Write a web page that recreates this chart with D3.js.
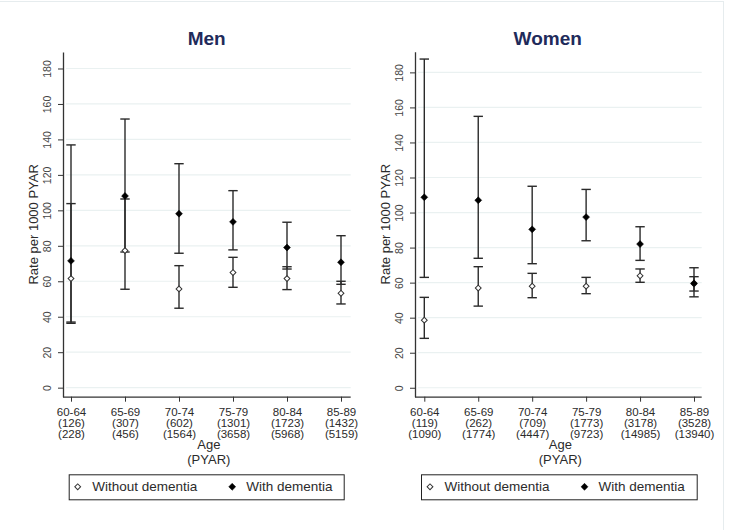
<!DOCTYPE html>
<html>
<head>
<meta charset="utf-8">
<script src="https://cdn.jsdelivr.net/npm/d3@7/dist/d3.min.js"></script>
<style>
  html, body { margin: 0; padding: 0; background: #ffffff; }
  svg { display: block; font-family: "Liberation Sans", Arial, sans-serif; }
</style>
</head>
<body>
<svg id="chart" width="729" height="530"></svg>
<script>
// ---------- data ----------
const ageGroups = ["60-64", "65-69", "70-74", "75-79", "80-84", "85-89"];
const yTicks = [0, 20, 40, 60, 80, 100, 120, 140, 160, 180];

const menPyarWith    = ["(126)", "(307)", "(602)", "(1301)", "(1723)", "(1432)"];
const menPyarWithout = ["(228)", "(456)", "(1564)", "(3658)", "(5968)", "(5159)"];
const menWithRate     = [71.5, 108.1, 98.1, 93.5, 79.0, 70.7];
const menWithLower    = [37.0, 76.5, 75.8, 77.7, 66.9, 58.3];
const menWithUpper    = [136.9, 151.5, 126.3, 111.1, 93.3, 85.7];
const menWithoutRate  = [61.5, 77.3, 55.7, 64.9, 61.5, 53.2];
const menWithoutLower = [36.3, 55.5, 44.8, 56.6, 55.3, 47.2];
const menWithoutUpper = [103.8, 106.4, 68.8, 73.5, 68.2, 60.0];

const womenPyarWith    = ["(119)", "(262)", "(709)", "(1773)", "(3178)", "(3528)"];
const womenPyarWithout = ["(1090)", "(1774)", "(4447)", "(9723)", "(14985)", "(13940)"];
const womenWithRate     = [108.7, 107.0, 90.4, 97.4, 82.0, 59.6];
const womenWithLower    = [63.0, 73.9, 70.8, 83.9, 72.7, 51.9];
const womenWithUpper    = [187.6, 154.9, 115.0, 113.2, 91.9, 68.5];
const womenWithoutRate  = [38.6, 56.9, 58.0, 58.0, 63.9, 59.3];
const womenWithoutLower = [28.2, 46.6, 51.4, 53.7, 60.2, 55.2];
const womenWithoutUpper = [51.6, 69.1, 65.3, 63.0, 67.8, 63.4];

const panelTitles = ["Men", "Women"];
const legendLabels = ["Without dementia", "With dementia"];
const yTitle = "Rate per 1000 PYAR";
const xTitle = ["Age", "(PYAR)"];

// ---------- layout ----------
const svg = d3.select("#chart");
const textColor = "#2b2b2b";
const barColor = "#2a2a2a";

// faint outer frame
svg.append("line").attr("x1", 0).attr("x2", 723).attr("y1", 1.5).attr("y2", 1.5)
  .attr("stroke", "#e6ecee").attr("stroke-width", 1);
svg.append("line").attr("x1", 723.5).attr("x2", 723.5).attr("y1", 1).attr("y2", 530)
  .attr("stroke", "#e6ecee").attr("stroke-width", 1);

const panels = [
  {
    title: panelTitles[0], axisX: 63, right: 350.7, top: 52, bottom: 396.7,
    domainMin: -5.1, domainMax: 189.3, xFirst: 71, xLast: 341,
    pyarWith: menPyarWith, pyarWithout: menPyarWithout,
    withRate: menWithRate, withLower: menWithLower, withUpper: menWithUpper,
    withoutRate: menWithoutRate, withoutLower: menWithoutLower, withoutUpper: menWithoutUpper,
    legendX: 68.7, legendW: 275, titleX: 206.7
  },
  {
    title: panelTitles[1], axisX: 415, right: 701.7, top: 51.7, bottom: 396.7,
    domainMin: -5.1, domainMax: 191.8, xFirst: 424.3, xLast: 694,
    pyarWith: womenPyarWith, pyarWithout: womenPyarWithout,
    withRate: womenWithRate, withLower: womenWithLower, withUpper: womenWithUpper,
    withoutRate: womenWithoutRate, withoutLower: womenWithoutLower, withoutUpper: womenWithoutUpper,
    legendX: 421, legendW: 275.7, titleX: 547.7
  }
];

const diamondFilled = d3.symbol().type(d3.symbolSquare).size(24);
const diamondHollow = d3.symbol().type(d3.symbolSquare).size(17);

panels.forEach(p => {
  const g = svg.append("g");
  const y = d3.scaleLinear().domain([p.domainMin, p.domainMax]).range([p.bottom, p.top]);
  const x = d3.scalePoint().domain(ageGroups).range([p.xFirst, p.xLast]);

  // title
  g.append("text").attr("x", p.titleX).attr("y", 44.5)
    .attr("text-anchor", "middle").attr("font-size", 19).attr("font-weight", "bold")
    .attr("fill", "#1f2b5b").text(p.title);

  // gridlines
  g.append("g").selectAll("line").data(yTicks).join("line")
    .attr("x1", p.axisX + 3).attr("x2", p.right)
    .attr("y1", d => y(d)).attr("y2", d => y(d))
    .attr("stroke", "#eaf1f1").attr("stroke-width", 1.2);

  // y axis
  const yAxis = g.append("g").attr("transform", `translate(${p.axisX},0)`)
    .call(d3.axisLeft(y).tickValues(yTicks).tickSize(5).tickSizeOuter(0));
  yAxis.select(".domain").attr("stroke", "#333").attr("stroke-width", 1.3);
  yAxis.selectAll(".tick line").attr("stroke", "#333");
  yAxis.selectAll(".tick text")
    .attr("transform", "rotate(-90)")
    .attr("x", 0).attr("y", -15.5).attr("dy", "0.35em")
    .attr("text-anchor", "middle").attr("font-size", 10.5).attr("fill", "#444");

  // x axis
  const xAxis = g.append("g").attr("transform", `translate(0,${p.bottom})`)
    .call(d3.axisBottom(x).tickSize(5).tickSizeOuter(0));
  xAxis.select(".domain").attr("d", `M${p.axisX},0.5H${p.right}`)
    .attr("stroke", "#333").attr("stroke-width", 1.3);
  xAxis.selectAll(".tick line").attr("stroke", "#333");
  xAxis.selectAll(".tick text").each(function(d, i) {
    const t = d3.select(this);
    t.text(null).attr("y", 0).attr("dy", null).attr("font-size", 11.5).attr("fill", textColor);
    [d, p.pyarWith[i], p.pyarWithout[i]].forEach((s, k) => {
      t.append("tspan").attr("x", 0).attr("y", 19.5 + k * 11).text(s);
    });
  });

  // x axis title
  const cx = (p.axisX + p.right) / 2;
  xTitle.forEach((s, k) => {
    g.append("text").attr("x", cx + 2).attr("y", 448.5 + k * 15)
      .attr("text-anchor", "middle").attr("font-size", 13).attr("fill", textColor).text(s);
  });

  // y axis title
  const cy = (p.top + p.bottom) / 2;
  g.append("text")
    .attr("transform", `translate(${p.axisX - 25},${cy}) rotate(-90)`)
    .attr("text-anchor", "middle").attr("font-size", 13).attr("fill", textColor)
    .text(yTitle);

  // error bars
  const series = [
    { rate: p.withoutRate, lo: p.withoutLower, hi: p.withoutUpper, filled: false },
    { rate: p.withRate, lo: p.withLower, hi: p.withUpper, filled: true }
  ];
  const capHalf = 4.7;
  series.forEach(s => {
    const eg = g.append("g").attr("stroke", barColor).attr("stroke-width", 1.4);
    eg.selectAll("line.v").data(ageGroups).join("line").attr("class", "v")
      .attr("x1", d => x(d)).attr("x2", d => x(d))
      .attr("y1", (d, i) => y(s.lo[i])).attr("y2", (d, i) => y(s.hi[i]));
    eg.selectAll("line.lo").data(ageGroups).join("line").attr("class", "lo")
      .attr("x1", d => x(d) - capHalf).attr("x2", d => x(d) + capHalf)
      .attr("y1", (d, i) => y(s.lo[i])).attr("y2", (d, i) => y(s.lo[i]));
    eg.selectAll("line.hi").data(ageGroups).join("line").attr("class", "hi")
      .attr("x1", d => x(d) - capHalf).attr("x2", d => x(d) + capHalf)
      .attr("y1", (d, i) => y(s.hi[i])).attr("y2", (d, i) => y(s.hi[i]));
  });
  // markers
  series.forEach(s => {
    g.append("g").selectAll("path").data(ageGroups).join("path")
      .attr("d", s.filled ? diamondFilled : diamondHollow)
      .attr("transform", (d, i) => `translate(${x(d)},${y(s.rate[i])}) rotate(45)`)
      .attr("fill", s.filled ? "#000" : "#fff")
      .attr("stroke", s.filled ? "#000" : "#333")
      .attr("stroke-width", s.filled ? 0.5 : 1);
  });

  // legend
  const lg = g.append("g").attr("transform", `translate(${p.legendX},474.3)`);
  lg.append("rect").attr("x", 0.5).attr("y", 0.5).attr("width", p.legendW).attr("height", 25)
    .attr("fill", "#fff").attr("stroke", "#222").attr("stroke-width", 1);
  const items = [
    { label: legendLabels[0], mx: 9, tx: 23.5, filled: false },
    { label: legendLabels[1], mx: 163.5, tx: 177.5, filled: true }
  ];
  items.forEach(it => {
    lg.append("path").attr("d", it.filled ? diamondFilled : diamondHollow)
      .attr("transform", `translate(${it.mx},12.5) rotate(45)`)
      .attr("fill", it.filled ? "#000" : "#fff")
      .attr("stroke", it.filled ? "#000" : "#333")
      .attr("stroke-width", it.filled ? 0.5 : 1);
    lg.append("text").attr("x", it.tx).attr("y", 17.2)
      .attr("font-size", 13.5).attr("fill", textColor).text(it.label);
  });
});
</script>
</body>
</html>
